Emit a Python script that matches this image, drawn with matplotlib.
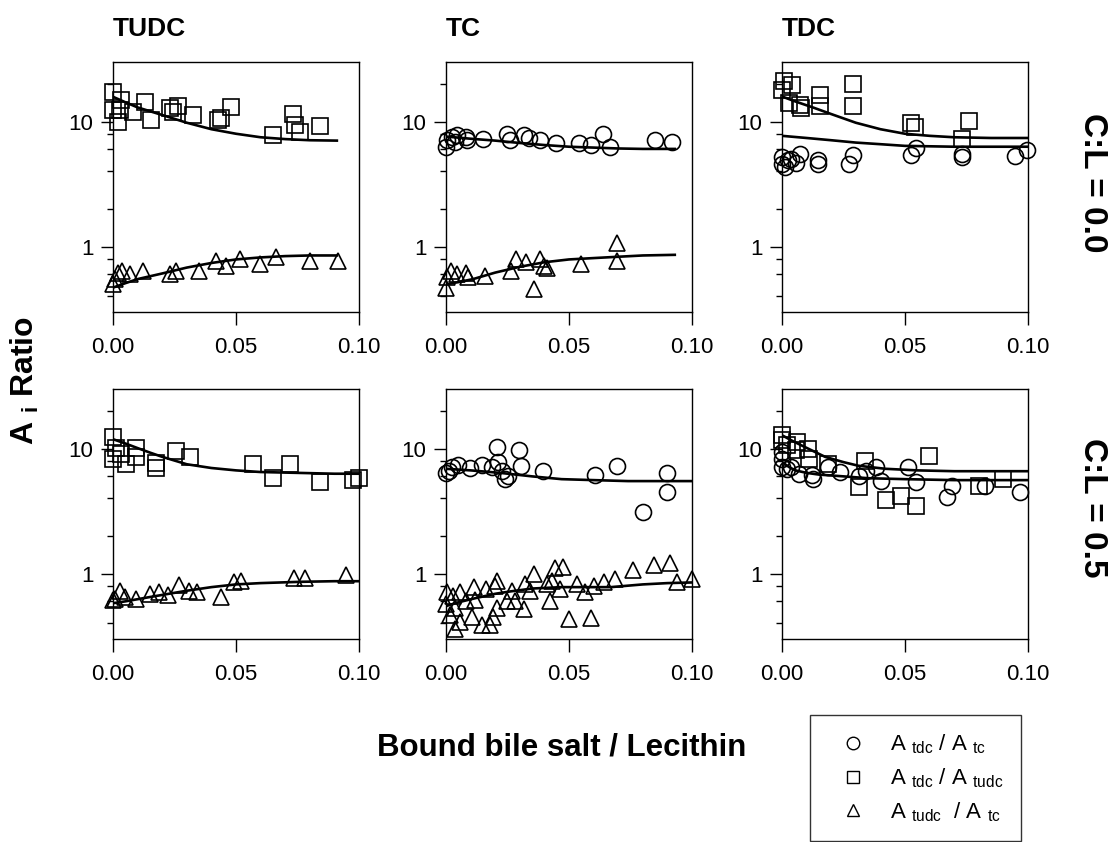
import matplotlib
matplotlib.use('Agg')
import matplotlib.pyplot as plt
from matplotlib.lines import Line2D
from matplotlib.ticker import FixedLocator, NullFormatter

plt.rcParams['font.family'] = ['Liberation Sans', 'DejaVu Sans']
plt.rcParams['mathtext.fontset'] = 'custom'
plt.rcParams['mathtext.rm'] = 'Liberation Sans'
plt.rcParams['mathtext.bf'] = 'Liberation Sans:bold'

# ---- data ----
# TUDC, C:L = 0.0
tudc0_sq_x = [0.0, 0.0, 0.002, 0.0034, 0.0027, 0.008, 0.013, 0.0156, 0.023, 0.0244, 0.0264, 0.0325,
              0.0427, 0.044, 0.048, 0.065, 0.073, 0.0738, 0.0759, 0.084]
tudc0_sq_y = [17.3, 12.4, 10.0, 14.9, 12.4, 12.0, 14.4, 10.3, 12.8, 12.0, 13.3, 11.3,
              10.3, 10.6, 13.2, 7.8, 11.6, 9.4, 8.3, 9.2]
tudc0_tri_x = [0.0, 0.0007, 0.002, 0.0038, 0.0068, 0.012, 0.023, 0.0257, 0.035, 0.0417, 0.0458,
               0.0518, 0.0596, 0.0664, 0.08, 0.0915]
tudc0_tri_y = [0.50, 0.55, 0.62, 0.64, 0.60, 0.64, 0.60, 0.64, 0.64, 0.77, 0.70,
               0.80, 0.72, 0.82, 0.77, 0.77]
tudc0_sq_fit_x = [0.0, 0.005, 0.01, 0.02, 0.03, 0.04, 0.05, 0.06, 0.07, 0.08, 0.091]
tudc0_sq_fit_y = [15.8, 14.3, 13.0, 11.3, 9.8, 8.7, 8.0, 7.5, 7.25, 7.1, 7.05]
tudc0_tri_fit_x = [0.0, 0.005, 0.01, 0.02, 0.03, 0.04, 0.05, 0.06, 0.07, 0.08, 0.091]
tudc0_tri_fit_y = [0.47, 0.51, 0.55, 0.61, 0.68, 0.74, 0.79, 0.82, 0.84, 0.85, 0.85]

# TC, C:L = 0.0
tc0_ci_x = [0.0, 0.0005, 0.0023, 0.0044, 0.0037, 0.008, 0.0084, 0.015, 0.0248, 0.026, 0.0316,
            0.0336, 0.0384, 0.0446, 0.054, 0.059, 0.064, 0.0668, 0.085, 0.092]
tc0_ci_y = [6.3, 7.1, 7.6, 7.8, 6.9, 7.6, 7.1, 7.2, 7.9, 7.1, 7.8,
            7.4, 7.1, 6.8, 6.8, 6.5, 7.9, 6.3, 7.1, 6.9]
tc0_tri_x = [0.0, 0.0005, 0.0019, 0.0044, 0.008, 0.009, 0.016, 0.0264, 0.0286, 0.0327, 0.0357,
             0.0384, 0.0398, 0.041, 0.0548, 0.0695, 0.0695]
tc0_tri_y = [0.47, 0.57, 0.64, 0.60, 0.62, 0.57, 0.58, 0.64, 0.80, 0.75, 0.46,
             0.79, 0.70, 0.68, 0.72, 1.07, 0.77]
tc0_ci_fit_x = [0.0, 0.01, 0.02, 0.03, 0.04, 0.05, 0.06, 0.07, 0.08, 0.093]
tc0_ci_fit_y = [7.6, 7.3, 7.05, 6.75, 6.5, 6.3, 6.2, 6.1, 6.05, 6.05]
tc0_tri_fit_x = [0.0, 0.005, 0.011, 0.02, 0.03, 0.04, 0.05, 0.06, 0.07, 0.08, 0.093]
tc0_tri_fit_y = [0.50, 0.52, 0.55, 0.62, 0.69, 0.75, 0.79, 0.81, 0.83, 0.85, 0.86]

# TDC, C:L = 0.0
tdc0_sq_x = [0.0, 0.001, 0.004, 0.003, 0.0075, 0.0077, 0.0156, 0.0156, 0.029, 0.029, 0.0525,
             0.054, 0.073, 0.076]
tdc0_sq_y = [18.0, 21.0, 19.7, 14.1, 13.7, 12.9, 16.4, 13.3, 20.0, 13.3, 9.8,
             9.1, 7.3, 10.1]
tdc0_ci_x = [0.0, 0.0, 0.0014, 0.0023, 0.0037, 0.0057, 0.0075, 0.0148, 0.0148, 0.0288, 0.0274,
             0.0525, 0.0545, 0.073, 0.073, 0.0946, 0.0997]
tdc0_ci_y = [5.2, 4.6, 4.3, 4.9, 5.0, 4.7, 5.5, 4.9, 4.6, 5.4, 4.6,
             5.4, 6.2, 5.5, 5.2, 5.3, 5.9]
tdc0_sq_fit_x = [0.0, 0.005, 0.013, 0.02, 0.03, 0.04, 0.05, 0.06, 0.07, 0.085, 0.1]
tdc0_sq_fit_y = [15.9, 14.6, 12.9, 11.5, 9.8, 8.7, 8.0, 7.7, 7.5, 7.4, 7.4]
tdc0_ci_fit_x = [0.0, 0.01, 0.02, 0.03, 0.04, 0.05, 0.06, 0.07, 0.085, 0.1]
tdc0_ci_fit_y = [7.7, 7.4, 7.1, 6.8, 6.6, 6.4, 6.35, 6.3, 6.3, 6.3]

# TUDC, C:L = 0.5
tudc5_sq_x = [0.0, 0.0, 0.0014, 0.0034, 0.0054, 0.0092, 0.0095, 0.0176, 0.0173, 0.0257, 0.0314,
              0.057, 0.065, 0.072, 0.084, 0.0976, 0.1]
tudc5_sq_y = [12.3, 8.3, 10.2, 9.0, 7.5, 10.2, 8.5, 7.7, 7.0, 9.6, 8.5,
              7.6, 5.8, 7.5, 5.4, 5.6, 5.8]
tudc5_tri_x = [0.0, 0.0007, 0.003, 0.005, 0.0095, 0.0151, 0.0186, 0.0223, 0.027, 0.0308, 0.034,
               0.044, 0.049, 0.052, 0.0736, 0.078, 0.0946]
tudc5_tri_y = [0.61, 0.63, 0.73, 0.65, 0.63, 0.69, 0.71, 0.67, 0.81, 0.73, 0.71,
               0.65, 0.86, 0.87, 0.93, 0.93, 0.98]
tudc5_sq_fit_x = [0.0, 0.005, 0.01, 0.015, 0.02, 0.03, 0.04, 0.05, 0.06, 0.075, 0.09, 0.1]
tudc5_sq_fit_y = [11.9, 11.0, 10.1, 9.3, 8.6, 7.5, 7.0, 6.7, 6.5, 6.4, 6.3, 6.3]
tudc5_tri_fit_x = [0.0, 0.005, 0.015, 0.03, 0.04, 0.05, 0.06, 0.076, 0.09, 0.1]
tudc5_tri_fit_y = [0.58, 0.60, 0.65, 0.73, 0.78, 0.82, 0.84, 0.86, 0.87, 0.87]

# TC, C:L = 0.5
tc5_ci_x = [0.0, 0.0014, 0.0023, 0.005, 0.0098, 0.0146, 0.0186, 0.0207, 0.021, 0.0227, 0.024,
            0.0254, 0.0295, 0.0305, 0.0395, 0.0604, 0.0694, 0.0799, 0.09, 0.09]
tc5_ci_y = [6.4, 6.6, 7.1, 7.4, 7.0, 7.4, 7.1, 10.3, 7.8, 6.6, 5.7,
            6.0, 9.7, 7.3, 6.6, 6.2, 7.2, 3.1, 6.4, 4.5]
tc5_tri_x = [0.0, 0.0005, 0.0016, 0.003, 0.0037, 0.0037, 0.0057, 0.0057, 0.0082, 0.0105, 0.0112,
             0.0118, 0.0146, 0.0163, 0.018, 0.0193, 0.0207, 0.02, 0.0207, 0.0248, 0.0268,
             0.0282, 0.0316, 0.0322, 0.0343, 0.0356, 0.041, 0.0424, 0.0431, 0.0445, 0.0476,
             0.0463, 0.05, 0.0533, 0.0567, 0.0588, 0.0601, 0.0642, 0.0686, 0.0762, 0.0844,
             0.0912, 0.0941, 0.1]
tc5_tri_y = [0.57, 0.71, 0.47, 0.66, 0.53, 0.36, 0.41, 0.71, 0.60, 0.45, 0.78,
             0.62, 0.39, 0.75, 0.39, 0.45, 0.88, 0.80, 0.53, 0.60, 0.73,
             0.60, 0.52, 0.83, 0.73, 1.0, 0.83, 0.60, 0.88, 1.10, 1.13,
             0.75, 0.43, 0.83, 0.71, 0.44, 0.80, 0.85, 0.91, 1.06, 1.17,
             1.21, 0.85, 0.91]
tc5_ci_fit_x = [0.0, 0.01, 0.022, 0.035, 0.047, 0.06, 0.074, 0.09, 0.1]
tc5_ci_fit_y = [6.9, 6.7, 6.4, 6.0, 5.7, 5.6, 5.5, 5.5, 5.5]
tc5_tri_fit_x = [0.0, 0.005, 0.0125, 0.02, 0.026, 0.035, 0.047, 0.06, 0.067, 0.08, 0.09, 0.1]
tc5_tri_fit_y = [0.55, 0.59, 0.64, 0.69, 0.72, 0.76, 0.78, 0.78, 0.78, 0.82, 0.84, 0.85]

# TDC, C:L = 0.5
tdc5_sq_x = [0.0, 0.0, 0.002, 0.006, 0.0056, 0.0105, 0.011, 0.0188, 0.0315, 0.0336, 0.0423,
             0.0483, 0.0544, 0.0597, 0.0799, 0.09]
tdc5_sq_y = [12.8, 11.7, 10.6, 11.3, 9.8, 10.0, 8.3, 7.6, 4.95, 8.0, 3.9,
             4.2, 3.5, 8.7, 5.0, 5.7]
tdc5_ci_x = [0.0, 0.0, 0.0, 0.002, 0.0038, 0.007, 0.012, 0.0128, 0.0188, 0.0235, 0.0315,
             0.0342, 0.0383, 0.0403, 0.0513, 0.0544, 0.0671, 0.0691, 0.0826, 0.0966]
tdc5_ci_y = [9.4, 8.3, 7.1, 6.9, 7.1, 6.3, 6.1, 5.7, 7.1, 6.5, 6.0,
             6.6, 7.1, 5.5, 7.1, 5.4, 4.1, 5.0, 5.0, 4.5]
tdc5_sq_fit_x = [0.0, 0.004, 0.008, 0.0175, 0.025, 0.031, 0.042, 0.055, 0.07, 0.1]
tdc5_sq_fit_y = [12.8, 11.6, 10.6, 8.6, 7.8, 7.3, 6.9, 6.7, 6.6, 6.6]
tdc5_ci_fit_x = [0.0, 0.003, 0.0054, 0.01, 0.015, 0.025, 0.035, 0.05, 0.07, 0.1]
tdc5_ci_fit_y = [7.8, 7.1, 6.7, 6.4, 6.2, 6.0, 5.8, 5.7, 5.6, 5.6]

titles = ['TUDC', 'TC', 'TDC']
row_labels = ['C:L = 0.0', 'C:L = 0.5']
x_ticks = [0.0, 0.05, 0.10]
x_ticklabels = ['0.00', '0.05', '0.10']
legend_labels = [r'A $_{\rm tdc}$ / A $_{\rm tc}$',
                 r'A $_{\rm tdc}$ / A $_{\rm tudc}$',
                 r'A $_{\rm tudc}$  / A $_{\rm tc}$']

# panels: list of (marker, x, y) and fitted curves
panels = [
    [[('s', tudc0_sq_x, tudc0_sq_y), ('^', tudc0_tri_x, tudc0_tri_y)],
     [(tudc0_sq_fit_x, tudc0_sq_fit_y), (tudc0_tri_fit_x, tudc0_tri_fit_y)]],
    [[('o', tc0_ci_x, tc0_ci_y), ('^', tc0_tri_x, tc0_tri_y)],
     [(tc0_ci_fit_x, tc0_ci_fit_y), (tc0_tri_fit_x, tc0_tri_fit_y)]],
    [[('s', tdc0_sq_x, tdc0_sq_y), ('o', tdc0_ci_x, tdc0_ci_y)],
     [(tdc0_sq_fit_x, tdc0_sq_fit_y), (tdc0_ci_fit_x, tdc0_ci_fit_y)]],
    [[('s', tudc5_sq_x, tudc5_sq_y), ('^', tudc5_tri_x, tudc5_tri_y)],
     [(tudc5_sq_fit_x, tudc5_sq_fit_y), (tudc5_tri_fit_x, tudc5_tri_fit_y)]],
    [[('o', tc5_ci_x, tc5_ci_y), ('^', tc5_tri_x, tc5_tri_y)],
     [(tc5_ci_fit_x, tc5_ci_fit_y), (tc5_tri_fit_x, tc5_tri_fit_y)]],
    [[('s', tdc5_sq_x, tdc5_sq_y), ('o', tdc5_ci_x, tdc5_ci_y)],
     [(tdc5_sq_fit_x, tdc5_sq_fit_y), (tdc5_ci_fit_x, tdc5_ci_fit_y)]],
]

W, H = 1111, 842
fig = plt.figure(figsize=(W / 100, H / 100), dpi=100)

lefts = [113, 446, 782]
tops = [62, 389]
pw, ph = 246, 250

for k, (scatters, fits) in enumerate(panels):
    r, c = divmod(k, 3)
    ax = fig.add_axes([lefts[c] / W, 1 - (tops[r] + ph) / H, pw / W, ph / H])
    for xs, ys in fits:
        ax.plot(xs, ys, color='black', lw=1.9, zorder=2)
    for m, xs, ys in scatters:
        ms = 11 if m != 'o' else 11.5
        ax.plot(xs, ys, ls='none', marker=m, ms=ms, mfc='none', mec='black',
                mew=1.2, clip_on=False, zorder=3)
    ax.set_yscale('log')
    ax.set_ylim(0.3, 30)
    ax.set_xlim(0, 0.10)
    ax.set_yticks([1, 10])
    ax.set_yticklabels(['1', '10'])
    ax.yaxis.set_minor_locator(FixedLocator([0.4, 0.6, 0.8, 2, 4, 6, 8, 20]))
    ax.yaxis.set_minor_formatter(NullFormatter())
    ax.set_xticks(x_ticks)
    ax.set_xticklabels(x_ticklabels)
    ax.tick_params(axis='both', which='major', direction='out', length=9, width=1.0,
                   labelsize=16)
    ax.tick_params(axis='x', pad=9)
    ax.tick_params(axis='y', pad=5)
    ax.tick_params(axis='y', which='minor', direction='out', length=4.5, width=1.0)
    for sp in ax.spines.values():
        sp.set_linewidth(1.0)
    if r == 0:
        ax.set_title(titles[c], loc='left', fontsize=19, fontweight='bold', pad=19)

# row labels on the right
fig.text(1092 / W, 1 - 183 / H, row_labels[0], rotation=-90, fontsize=24,
         fontweight='bold', ha='center', va='center')
fig.text(1092 / W, 1 - 508 / H, row_labels[1], rotation=-90, fontsize=24,
         fontweight='bold', ha='center', va='center')

fig.text(25 / W, 1 - 380 / H, r'A $_{\mathbf{i}}$ Ratio', rotation=90, fontsize=23,
         fontweight='bold', ha='center', va='center')
fig.text(562 / W, 1 - 747 / H, 'Bound bile salt / Lecithin', fontsize=22.5,
         fontweight='bold', ha='center', va='center')

handles = [Line2D([], [], ls='none', marker=m, ms=9, mfc='none', mec='black', mew=1.0)
           for m in ['o', 's', '^']]
fig.legend(handles, legend_labels, loc='upper left', bbox_to_anchor=(810 / W, 1 - 715 / H),
           fontsize=16, frameon=True, fancybox=False, edgecolor='black', borderpad=0.8,
           labelspacing=0.45, handlelength=2.3, handletextpad=0.5, borderaxespad=0)
fig.legends[0].get_frame().set_linewidth(1.0)

fig.savefig('out.png', dpi=100)
